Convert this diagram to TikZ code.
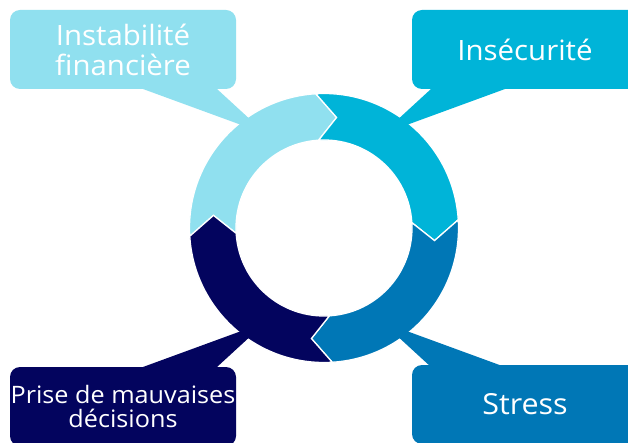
\documentclass[tikz,border=0pt]{standalone}
\usepackage{fontspec}
\setmainfont{Open Sans}[FakeStretch=1.05]
\definecolor{lb}{HTML}{90E0EF}
\definecolor{cy}{HTML}{00B4D8}
\definecolor{mb}{HTML}{0077B6}
\definecolor{nv}{HTML}{03045E}
\tikzset{
  box/.style={rounded corners=10pt, inner sep=0pt, minimum width=226pt, minimum height=79pt, text=white, align=center},
  seg/.style={draw=white, line width=1.3pt, line join=miter},
}
\newcommand{\ringseg}[2]{%
  \fill[seg,#2] (#1:134.5) arc[start angle=#1, end angle=#1-90, radius=134.5]
    -- (#1-100:111.25) -- (#1-90:88) arc[start angle=#1-90, end angle=#1, radius=88]
    -- (#1-10:111.25) -- cycle;}
\begin{document}
\begin{tikzpicture}[x=1pt,y=1pt]
\useasboundingbox (0,0) rectangle (628,442);
\clip (0,0) rectangle (628,442);
\fill[white] (0,0) rectangle (628,442);
% ring
\begin{scope}[shift={(324,214)}]
  \ringseg{183.5}{fill=lb}
  \ringseg{93.5}{fill=cy}
  \ringseg{3.5}{fill=mb}
  \ringseg{-86.5}{fill=nv}
\end{scope}
% pointer tips
\coordinate (t1) at (266,308);
\coordinate (t2) at (382,308);
\coordinate (t3) at (266,120);
\coordinate (t4) at (382,120);
% pointers
\fill[lb] (143,353) -- (t1) -- (217,353) -- (217,360) -- (143,360) -- cycle;
\fill[cy] (505,353) -- (t2) -- (431,353) -- (431,360) -- (505,360) -- cycle;
\fill[nv] (143,75) -- (t3) -- (217,75) -- (217,68) -- (143,68) -- cycle;
\fill[mb] (505,75) -- (t4) -- (431,75) -- (431,68) -- (505,68) -- cycle;
% boxes
\node[box, fill=lb, font=\fontsize{28}{30}\selectfont] (b1) at (123,392.5) {Instabilité\\financière};
\node[box, fill=cy, font=\fontsize{28}{30}\selectfont] (b2) at (525,392.5) {Insécurité};
\node[box, fill=nv, font=\fontsize{24}{24}\selectfont] (b3) at (123,35.5) {Prise de mauvaises\\décisions};
\node[box, fill=mb, font=\fontsize{29}{30}\selectfont] (b4) at (525,37.5) {Stress};
\end{tikzpicture}
\end{document}
